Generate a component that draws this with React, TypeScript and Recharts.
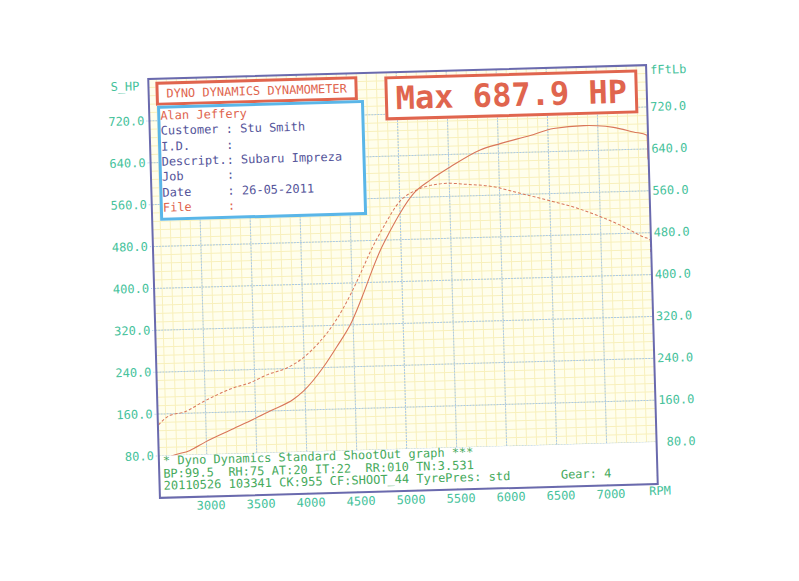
import { CartesianGrid, Line, LineChart, XAxis, YAxis } from "recharts";

// power curve (S_HP)
const powerRpm = [2520, 2632, 2834, 2987, 3273, 3476, 3645, 3882, 3984, 4191, 4330, 4487, 4611, 4702, 4790, 4895, 5001, 5139, 5310, 5514, 5818, 6020, 6323, 6557, 6860, 6992, 7158, 7356, 7490, 7494];
const powerHp = [66, 78, 89, 104, 128, 145, 160, 181, 196, 241, 279, 326, 379, 422, 460, 497, 531, 567, 592, 616, 647, 658, 672, 684, 687.9, 687, 683, 673, 666, 620];

// torque curve (fFtLb)
const torqueRpm = [2524, 2644, 2778, 2998, 3285, 3453, 3636, 3824, 3993, 4144, 4320, 4496, 4619, 4690, 4830, 5004, 5174, 5309, 5476, 5676, 5941, 6206, 6471, 6736, 6967, 7197, 7427, 7493, 7495];
const torqueFtLb = [139, 157, 162, 183, 206, 215, 230, 241, 260, 286, 327, 383, 430, 458, 505, 554, 574, 582, 585, 582, 576, 562, 548, 533, 516, 496, 472, 466, 441];

const rpmTicks = [3000, 3500, 4000, 4500, 5000, 5500, 6000, 6500, 7000];
const valueTicks = [80, 160, 240, 320, 400, 480, 560, 640, 720];

const infoLines = [
  { text: "Alan Jeffery", red: true },
  { text: "Customer : Stu Smith" },
  { text: "I.D.     :" },
  { text: "Descript.: Subaru Impreza" },
  { text: "Job      :" },
  { text: "Date     : 26-05-2011" },
  { text: "File     :", red: true },
];
const footerLines = [
  "* Dyno Dynamics Standard ShootOut graph ***",
  "BP:99.5  RH:75 AT:20 IT:22  RR:010 TN:3.531",
  "20110526 103341 CK:955 CF:SHOOT_44 TyrePres: std       Gear: 4",
];

const powerData = powerRpm.map((rpm, i) => ({ rpm, hp: powerHp[i] }));
const torqueData = torqueRpm.map((rpm, i) => ({ rpm, tq: torqueFtLb[i] }));

// fine yellow graph-paper lines
const minorRpm = Array.from({ length: 49 }, (_, i) => 2600 + i * 100);
const minorVal = Array.from({ length: 49 }, (_, i) => 16 + i * 16);

const MONO = "'DejaVu Sans Mono', monospace";
const paper = "#fffeec";
const minorYellow = "#f8f0bc";
const gridBlue = "#a8c9ea";
const curve = "#d9765a";
const teal = "#45c29b";
const red = "#e0654e";
const ink = "#54549a";
const green = "#46aa5c";

function LeftTick({ x, y, payload }: any) {
  return (
    <text x={x} y={y} textAnchor="end" dominantBaseline="central" fill={teal} fontSize={12} fontFamily={MONO}>
      {Number(payload.value).toFixed(1)}
    </text>
  );
}

function RightTick({ x, y, payload }: any) {
  return (
    <text x={x + 34} y={y} textAnchor="end" dominantBaseline="central" fill={teal} fontSize={12} fontFamily={MONO}>
      {Number(payload.value).toFixed(1)}
    </text>
  );
}

function RpmTick({ x, y, payload }: any) {
  return (
    <text x={x + 3} y={y + 9} textAnchor="middle" dominantBaseline="central" fill={teal} fontSize={12} fontFamily={MONO}>
      {payload.value}
    </text>
  );
}

const abs = (s: React.CSSProperties): React.CSSProperties => ({ position: "absolute", ...s });

export default function App() {
  return (
    <div style={abs({ left: 0, top: 0, width: 799, height: 581, background: "#fff", overflow: "hidden" })}>
      <div style={abs({ left: 0, top: 0, width: 799, height: 581, transform: "rotate(-1.6deg)", transformOrigin: "403px 281.5px" })}>
        <LineChart width={799} height={581} margin={{ top: 72, right: 0, bottom: 0, left: 0 }}>
          <XAxis type="number" dataKey="rpm" domain={[2520, 7500]} ticks={rpmTicks} interval={0}
            allowDataOverflow height={90} axisLine={false} tickLine={false} tickSize={0} tickMargin={0}
            tick={(p: any) => <RpmTick {...p} />} />
          <YAxis yAxisId="left" domain={[0, 800]} ticks={valueTicks} interval={0} width={154}
            axisLine={false} tickSize={3} tickMargin={2}
            tickLine={{ stroke: gridBlue, strokeDasharray: "1 1" }} tick={(p: any) => <LeftTick {...p} />} />
          <YAxis yAxisId="right" orientation="right" domain={[0, 800]} ticks={valueTicks} interval={0}
            width={147} axisLine={false} tickLine={false} tickSize={3} tickMargin={2}
            tick={(p: any) => <RightTick {...p} />} />
          <CartesianGrid yAxisId="left" fill={paper} fillOpacity={1} stroke={minorYellow}
            horizontalValues={minorVal} verticalValues={minorRpm} />
          <CartesianGrid yAxisId="left" stroke={gridBlue} strokeDasharray="2 1"
            horizontalValues={valueTicks} verticalValues={rpmTicks} />
          <Line yAxisId="right" data={torqueData} dataKey="tq" type="monotone" stroke={curve}
            strokeWidth={1} strokeDasharray="3 2" dot={false} activeDot={false} isAnimationActive={false} />
          <Line yAxisId="left" data={powerData} dataKey="hp" type="monotone" stroke={curve}
            strokeWidth={1.1} dot={false} activeDot={false} isAnimationActive={false} />
        </LineChart>

        {/* footer strip inside the frame, covers the 0..80 band */}
        <div style={abs({ left: 155, top: 449, width: 496, height: 41, background: "#fff" })} />
        {footerLines.map((t, i) => (
          <div key={i} style={abs({ left: 158, top: 454 + i * 12.5 - 8, height: 16, lineHeight: "16px",
            fontFamily: MONO, fontSize: 12, color: green, whiteSpace: "pre" })}>{t}</div>
        ))}

        {/* frame */}
        <div style={abs({ left: 153, top: 71, width: 500, height: 421, border: "2px solid #6a6aae", boxSizing: "border-box" })} />

        <div style={abs({ left: 95, top: 71, width: 50, height: 16, lineHeight: "16px", textAlign: "right",
          fontFamily: MONO, fontSize: 12, color: teal })}>S_HP</div>
        <div style={abs({ left: 656, top: 69, height: 16, lineHeight: "16px",
          fontFamily: MONO, fontSize: 12, color: teal })}>fFtLb</div>
        <div style={abs({ left: 652, top: 490, width: 30, textAlign: "center", lineHeight: "16px",
          fontFamily: MONO, fontSize: 12, color: teal, marginLeft: -13 })}>RPM</div>

        {/* header */}
        <div style={abs({ left: 161, top: 75, width: 202, height: 24, border: `3px solid ${red}`, boxSizing: "border-box",
          background: "#fff", fontFamily: MONO, fontSize: 12, color: red, textAlign: "center", lineHeight: "18px" })}>
          DYNO DYNAMICS DYNAMOMETER
        </div>
        <div style={abs({ left: 162, top: 99, width: 207, height: 115, border: "3px solid #5ab6e8", boxSizing: "border-box",
          background: "#fff" })}>
          {infoLines.map((l, i) => (
            <div key={i} style={abs({ left: 0, top: 7 + i * 15.3 - 8, height: 16, lineHeight: "16px",
              fontFamily: MONO, fontSize: 12, color: l.red ? red : ink, whiteSpace: "pre" })}>{l.text}</div>
          ))}
        </div>

        <div style={abs({ left: 390, top: 76, width: 253, height: 44, border: `3px solid ${red}`, boxSizing: "border-box",
          background: "#fff", fontFamily: MONO, fontSize: 32, fontWeight: "bold", color: red, textAlign: "center",
          lineHeight: "38px" })}>
          Max 687.9 HP
        </div>
      </div>
    </div>
  );
}
